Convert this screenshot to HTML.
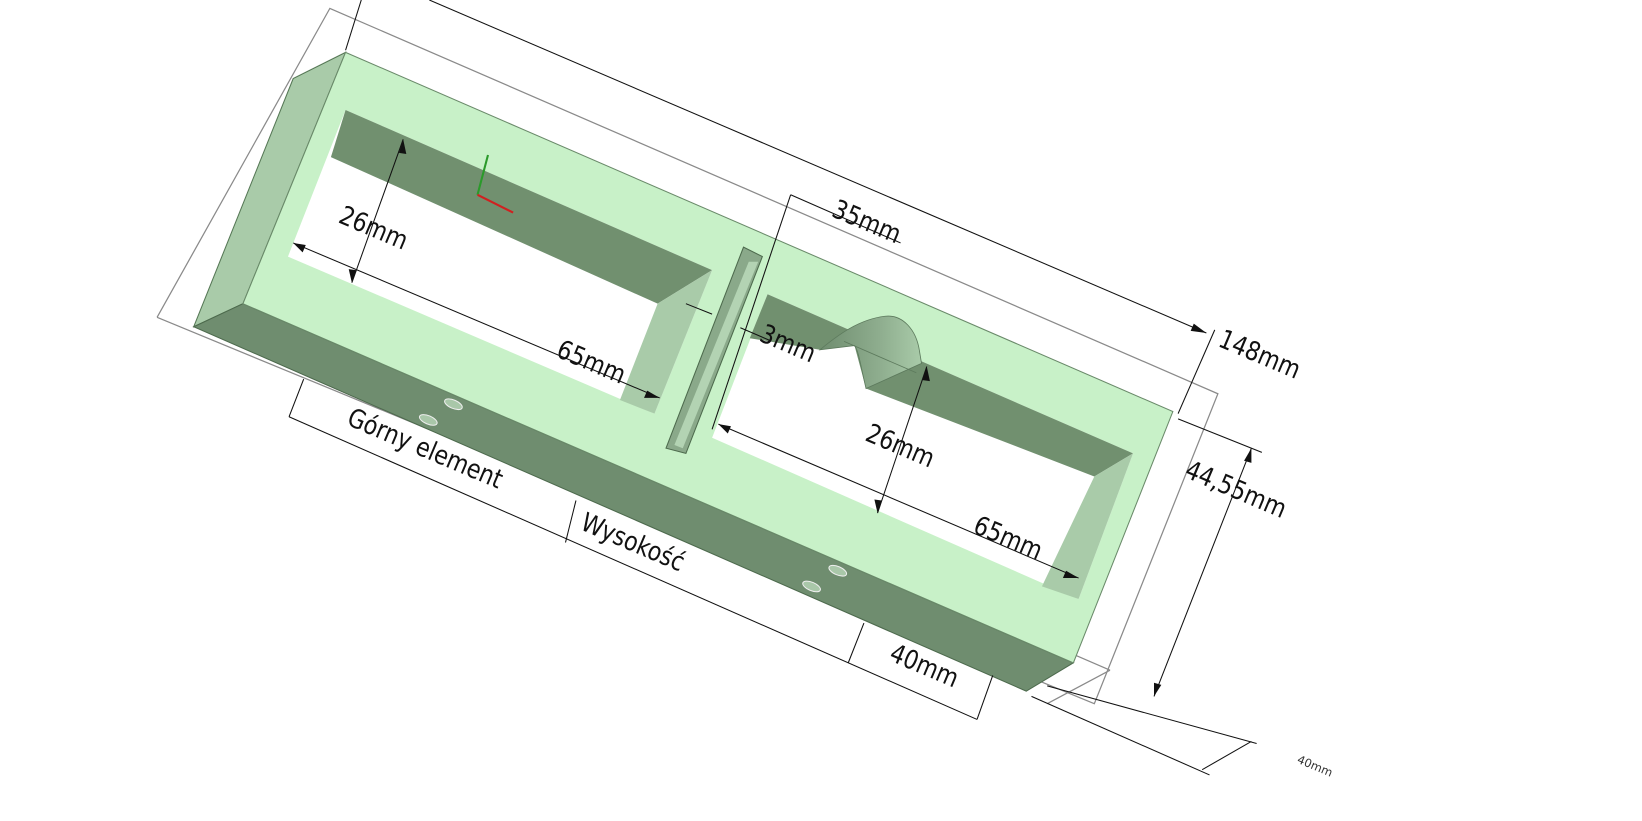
<!DOCTYPE html>
<html><head><meta charset="utf-8"><style>
html,body{margin:0;padding:0;background:#fff;width:1642px;height:821px;overflow:hidden}
svg text{font-family:"DejaVu Sans","Liberation Sans",sans-serif;font-size:25px;fill:#111}
</style></head><body>
<svg width="1642" height="821" viewBox="0 0 1568 784" preserveAspectRatio="none" xmlns="http://www.w3.org/2000/svg">
<defs><linearGradient id="cg" x1="0" y1="0" x2="1" y2="0">
<stop offset="0" stop-color="#6f8d6f"/><stop offset="0.6" stop-color="#8fae8f"/><stop offset="1" stop-color="#a9cba9"/></linearGradient></defs>
<g stroke="#8a8a8a" stroke-width="1.2" fill="none">
<polyline points="150,303 315,8 1163,376 1045,672 150,303"/>
<line x1="205" y1="270" x2="1060" y2="640"/>
<line x1="1060" y1="640" x2="1000" y2="672"/>
</g>
<polygon points="330,50 280,75 185,312 232,290" fill="#a9cba9" stroke="#557755" stroke-width="1"/>
<polygon points="185,312 232,290 1025,633 980,660" fill="#6f8d6f" stroke="#4d6a4d" stroke-width="1"/>
<polygon points="330,50 1120,393 1025,633 232,290" fill="#c8f1c8" stroke="#6a8a6a" stroke-width="1"/>
<polygon points="330,105 680,258 625,395 275,245" fill="#fff"/>
<polygon points="330,105 680,258 628,290 316,150" fill="#71906f"/>
<polygon points="680,258 625,395 592,382 628,290" fill="#a9cba9"/>
<polygon points="710,236 728,245 655,433 636,428" fill="#8aa98a" stroke="#4d6a4d" stroke-width="1"/>
<polygon points="715,250 724,250 652,428 644,425" fill="#b3d3b3"/>
<polygon points="733,281 1082,433 1030,572 680,418" fill="#fff"/>
<polygon points="733,281 1082,433 1045,455 827,371 816,330 783,334 716,323" fill="#71906f"/>
<path d="M783,334 C800,320 820,305 845,302 C862,300 875,315 878,335 L880,347 L827,371 C822,350 820,335 816,330 Z" fill="url(#cg)" stroke="#5d7a5d" stroke-width="0.8"/>
<line x1="806" y1="326" x2="875" y2="356" stroke="#5d7a5d" stroke-width="0.8"/>
<polygon points="1082,433 1030,572 995,560 1045,455" fill="#a9cba9"/>
<g fill="#a9c7a9" stroke="#eee" stroke-width="1">
<ellipse cx="433" cy="386" rx="9" ry="4" transform="rotate(23 433 386)"/>
<ellipse cx="409" cy="401" rx="9" ry="4" transform="rotate(23 409 401)"/>
<ellipse cx="800" cy="545" rx="9" ry="4" transform="rotate(23 800 545)"/>
<ellipse cx="775" cy="560" rx="9" ry="4" transform="rotate(23 775 560)"/>
</g>
<line x1="456" y1="186" x2="466" y2="148" stroke="#2a9a2a" stroke-width="2"/>
<line x1="456" y1="186" x2="490" y2="203" stroke="#d02020" stroke-width="2"/>
<g stroke="#111" stroke-width="1" fill="none">
<line x1="410" y1="0" x2="1152" y2="318"/>
<line x1="345" y1="0" x2="330" y2="48"/>
<line x1="1160" y1="315" x2="1125" y2="395"/>
<line x1="755" y1="186" x2="680" y2="410"/>
<line x1="755" y1="186" x2="860" y2="232"/>
<line x1="385" y1="133" x2="336" y2="270"/>
<line x1="280" y1="232" x2="630" y2="380"/>
<line x1="885" y1="350" x2="838" y2="490"/>
<line x1="686" y1="405" x2="1030" y2="552"/>
<line x1="655" y1="290" x2="680" y2="300"/>
<line x1="707" y1="313" x2="735" y2="325"/>
<line x1="1195" y1="428" x2="1102" y2="665"/>
<line x1="1125" y1="400" x2="1205" y2="432"/>
<line x1="1000" y1="655" x2="1200" y2="710"/>
<line x1="985" y1="665" x2="1155" y2="740"/>
<line x1="1195" y1="708" x2="1148" y2="735"/>
<line x1="290" y1="362" x2="276" y2="398"/>
<line x1="276" y1="398" x2="933" y2="687"/>
<line x1="550" y1="478" x2="540" y2="518"/>
<line x1="825" y1="595" x2="810" y2="633"/>
<line x1="948" y1="645" x2="933" y2="687"/>
</g>
<g fill="#111">
<polygon points="1152,318 1140,309 1137,316"/>
<polygon points="280,232 292,234 289,241"/>
<polygon points="630,380 618,373 615,380"/>
<polygon points="686,405 698,407 695,414"/>
<polygon points="1030,552 1018,545 1015,552"/>
<polygon points="385,133 381,146 388,147"/>
<polygon points="336,270 333,257 340,258"/>
<polygon points="885,350 881,363 888,364"/>
<polygon points="838,490 835,477 842,478"/>
<polygon points="1195,428 1188,440 1195,442"/>
<polygon points="1102,665 1102,652 1109,654"/>
</g>
<g>
<text transform="translate(322,212) rotate(23) scale(0.85,1)">26mm</text>
<text transform="translate(530,340) rotate(23) scale(0.85,1)">65mm</text>
<text transform="translate(793,206) rotate(23) scale(0.85,1)">35mm</text>
<text transform="translate(724,325) rotate(23) scale(0.85,1)">3mm</text>
<text transform="translate(1162,330) rotate(23) scale(0.85,1)">148mm</text>
<text transform="translate(825,420) rotate(23) scale(0.85,1)">26mm</text>
<text transform="translate(928,508) rotate(23) scale(0.85,1)">65mm</text>
<text transform="translate(1130,455) rotate(23) scale(0.85,1)">44,55mm</text>
<text transform="translate(330,405) rotate(23) scale(0.85,1)">Górny element</text>
<text transform="translate(553,505) rotate(23) scale(0.85,1)">Wysokość</text>
<text transform="translate(848,630) rotate(23) scale(0.85,1)">40mm</text>
<text transform="translate(1238,728) rotate(23)" style="font-size:11px;fill:#333">40mm</text>
</g>
</svg>
</body></html>
